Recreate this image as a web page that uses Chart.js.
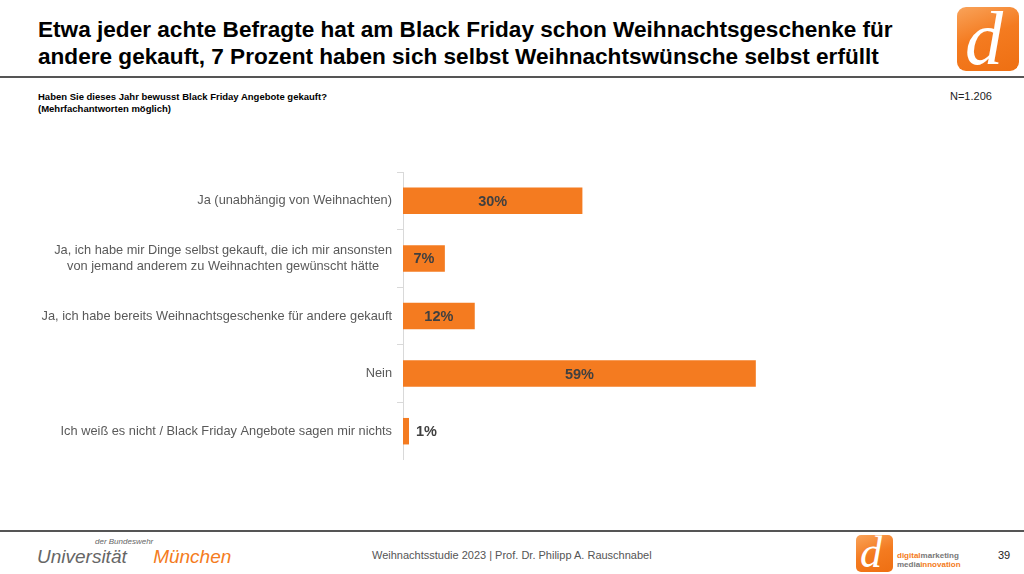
<!DOCTYPE html>
<html>
<head>
<meta charset="utf-8">
<script src="https://cdn.jsdelivr.net/npm/chart.js@4"></script>
<style>
  body { margin: 0; width: 1024px; height: 574px; background: #fff; position: relative; overflow: hidden; font-family: "Liberation Sans", Arial, sans-serif; }
  .abs { position: absolute; }
  #title { left: 38px; top: 16px; font-size: 22.6px; font-weight: bold; color: #000; line-height: 27px; white-space: nowrap; }
  #topline { left: 0; top: 76px; width: 1024px; height: 2px; background: #555; }
  #botline { left: 0; top: 530px; width: 1024px; height: 2px; background: #555; }
  #question { left: 38px; top: 91px; font-size: 9.5px; font-weight: bold; color: #000; line-height: 12px; }
  #n { left: 950px; top: 90px; font-size: 11px; color: #222; }
  #logo { left: 957px; top: 7px; width: 62px; height: 64px; border-radius: 9px; background: linear-gradient(160deg, #f9a35a 0%, #f47b20 45%, #ee6f12 100%); overflow: hidden; }
  #logo span { position: absolute; left: 8px; top: -12px; font-family: "Liberation Serif", "DejaVu Serif", serif; font-style: italic; font-size: 76px; color: #fff; }
  #footer { left: 372px; top: 549px; font-size: 11px; color: #555; }
  #page { left: 998px; top: 549px; font-size: 11px; color: #222; }
  #uni { left: 37px; top: 537px; }
  #uni .small { position: absolute; left: 58px; top: 0; font-size: 8px; font-style: italic; color: #666; white-space: nowrap; }
  #uni .big { position: absolute; left: 0; top: 9px; font-size: 19px; font-style: italic; color: #666; white-space: nowrap; }
  #uni .big b { font-weight: normal; color: #f47b20; }
  #dlogo { left: 856px; top: 535px; width: 37px; height: 37px; border-radius: 5px; background: linear-gradient(160deg, #f9a35a 0%, #f47b20 50%, #ee6f12 100%); overflow: hidden; }
  #dlogo span { position: absolute; left: 4px; top: -8px; font-family: "Liberation Serif", "DejaVu Serif", serif; font-style: italic; font-size: 44px; color: #fff; }
  #dm { left: 897px; top: 551px; font-size: 8px; line-height: 9px; font-weight: bold; color: #777; }
  #dm i { font-style: normal; color: #f47b20; }
  #wrap { left: 0; top: 172px; width: 1024px; height: 288px; }
</style>
</head>
<body>
<div id="title" class="abs">Etwa jeder achte Befragte hat am Black Friday schon Weihnachtsgeschenke für<br>andere gekauft, 7 Prozent haben sich selbst Weihnachtswünsche selbst erfüllt</div>
<div id="logo" class="abs"><span>d</span></div>
<div id="topline" class="abs"></div>
<div id="question" class="abs">Haben Sie dieses Jahr bewusst Black Friday Angebote gekauft?<br>(Mehrfachantworten möglich)</div>
<div id="n" class="abs">N=1.206</div>
<div id="wrap" class="abs"><canvas id="barChart"></canvas></div>
<div id="botline" class="abs"></div>
<div id="uni" class="abs"><span class="small">der Bundeswehr</span><span class="big">Universität &nbsp;&nbsp;&nbsp;&nbsp;<b>München</b></span></div>
<div id="footer" class="abs">Weihnachtsstudie 2023 | Prof. Dr. Philipp A. Rauschnabel</div>
<div id="dlogo" class="abs"><span>d</span></div>
<div id="dm" class="abs"><i>digital</i>marketing<br>media<i>innovation</i></div>
<div id="page" class="abs">39</div>

<script>
let labels1 = [
  ['Ja (unabhängig von Weihnachten)'],
  ['Ja, ich habe mir Dinge selbst gekauft, die ich mir ansonsten', 'von jemand anderem zu Weihnachten gewünscht hätte'],
  ['Ja, ich habe bereits Weihnachtsgeschenke für andere gekauft'],
  ['Nein'],
  ['Ich weiß es nicht / Black Friday Angebote sagen mir nichts']
];
let data1 = [30, 7, 12, 59, 1];
let barColor = '#f47b20';

// draws the category labels (centred block, right edge at the axis) and the value labels
let labelPlugin = {
  id: 'labelPlugin',
  afterDraw(chart) {
    let ctx = chart.ctx;
    let yScale = chart.scales.y;
    let meta = chart.getDatasetMeta(0);
    ctx.save();
    ctx.textBaseline = 'middle';
    ctx.font = '12.8px "Liberation Sans", Arial, sans-serif';
    ctx.fillStyle = '#595959';
    ctx.textAlign = 'center';
    labels1.forEach((lines, i) => {
      let y = yScale.getPixelForTick(i);
      let maxW = Math.max(...lines.map(l => ctx.measureText(l).width));
      let cx = chart.chartArea.left - 11 - maxW / 2;
      let lh = 15.5;
      lines.forEach((l, j) => {
        ctx.fillText(l, cx, y + (j - (lines.length - 1) / 2) * lh);
      });
    });
    ctx.font = 'bold 14.5px "Liberation Sans", Arial, sans-serif';
    ctx.fillStyle = '#404040';
    meta.data.forEach((bar, i) => {
      let txt = data1[i] + '%';
      if (data1[i] < 4) {
        ctx.textAlign = 'left';
        ctx.fillText(txt, bar.x + 7, bar.y + 1);
      } else {
        ctx.textAlign = 'center';
        ctx.fillText(txt, (bar.x + bar.base) / 2, bar.y + 1);
      }
    });
    ctx.restore();
  }
};

let myChart1 = document.getElementById('barChart').getContext('2d');

let chart = new Chart(myChart1, {
  type: 'bar',
  data: {
    labels: labels1,
    datasets: [{
      data: data1,
      backgroundColor: barColor,
      borderWidth: 0,
      categoryPercentage: 1,
      barPercentage: 0.46
    }]
  },
  options: {
    indexAxis: 'y',
    responsive: true,
    maintainAspectRatio: false,
    animation: false,
    layout: { padding: { left: 0, right: 23, top: 0, bottom: 0 } },
    plugins: {
      legend: { display: false },
      tooltip: { enabled: false }
    },
    scales: {
      x: {
        display: false,
        min: 0,
        max: 100
      },
      y: {
        afterFit(scale) { scale.width = 403; },
        ticks: { display: false },
        grid: {
          display: true,
          drawOnChartArea: false,
          drawTicks: true,
          tickLength: 6,
          offset: true,
          color: '#d9d9d9'
        },
        border: { display: true, color: '#d9d9d9' }
      }
    }
  },
  plugins: [labelPlugin]
});
</script>
</body>
</html>
